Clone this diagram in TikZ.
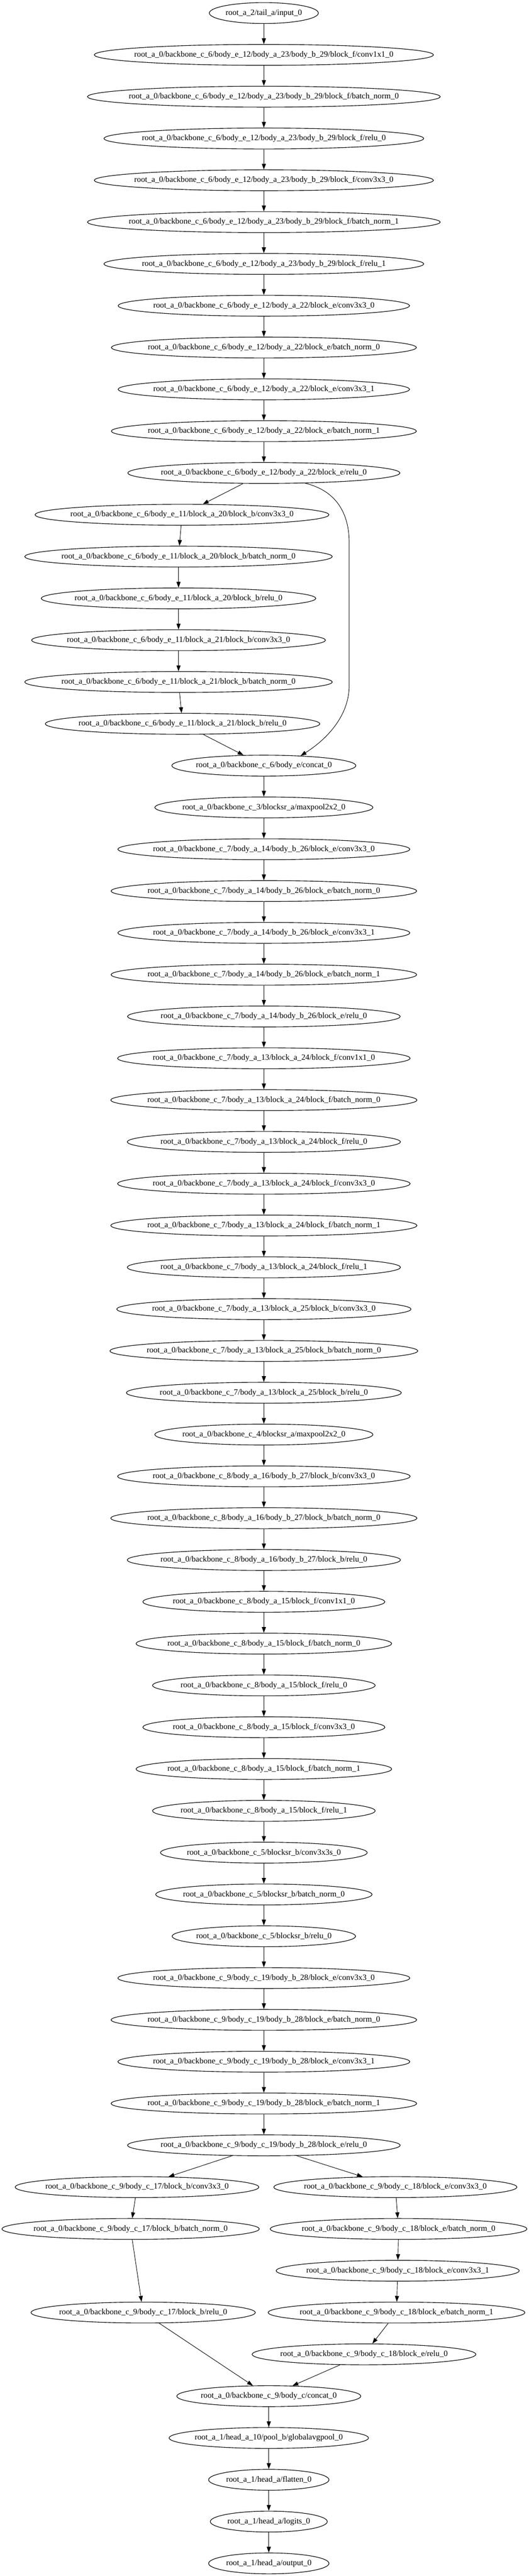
\documentclass[tikz,border=0pt]{standalone}
\usepackage{fontspec}
\setmainfont{Liberation Serif}
\usetikzlibrary{shapes.geometric,arrows.meta}
\newcommand\gvlab[1]{\sbox0{#1}\makebox[0.89\wd0]{#1}}
\newcommand\gvnode[4]{\node[gv] (#1) at (#2,{-22.5-72*(#3)}) {\gvlab{#4}};}
\begin{document}
\begin{tikzpicture}[x=1pt,y=1pt,
  gv/.style={ellipse,draw=black,line width=1pt,inner xsep=7.92pt,inner ysep=3.96pt,
    minimum height=36pt,minimum width=54pt,font=\fontsize{14pt}{16.8pt}\selectfont},
  edge/.style={draw=black,line width=0.8pt,-{Triangle[length=10pt,width=7pt]}}]
\useasboundingbox[fill=white] (0,0) rectangle (910.5,-4436.25);
% main column, upper part
\gvnode{n0}{454.5}{0}{root\_a\_2/tail\_a/input\_0}
\gvnode{n1}{454.5}{1}{root\_a\_0/backbone\_c\_6/body\_e\_12/body\_a\_23/body\_b\_29/block\_f/conv1x1\_0}
\gvnode{n2}{454.5}{2}{root\_a\_0/backbone\_c\_6/body\_e\_12/body\_a\_23/body\_b\_29/block\_f/batch\_norm\_0}
\gvnode{n3}{454.5}{3}{root\_a\_0/backbone\_c\_6/body\_e\_12/body\_a\_23/body\_b\_29/block\_f/relu\_0}
\gvnode{n4}{454.5}{4}{root\_a\_0/backbone\_c\_6/body\_e\_12/body\_a\_23/body\_b\_29/block\_f/conv3x3\_0}
\gvnode{n5}{454.5}{5}{root\_a\_0/backbone\_c\_6/body\_e\_12/body\_a\_23/body\_b\_29/block\_f/batch\_norm\_1}
\gvnode{n6}{454.5}{6}{root\_a\_0/backbone\_c\_6/body\_e\_12/body\_a\_23/body\_b\_29/block\_f/relu\_1}
\gvnode{n7}{454.5}{7}{root\_a\_0/backbone\_c\_6/body\_e\_12/body\_a\_22/block\_e/conv3x3\_0}
\gvnode{n8}{454.5}{8}{root\_a\_0/backbone\_c\_6/body\_e\_12/body\_a\_22/block\_e/batch\_norm\_0}
\gvnode{n9}{454.5}{9}{root\_a\_0/backbone\_c\_6/body\_e\_12/body\_a\_22/block\_e/conv3x3\_1}
\gvnode{n10}{454.5}{10}{root\_a\_0/backbone\_c\_6/body\_e\_12/body\_a\_22/block\_e/batch\_norm\_1}
\gvnode{n11}{454.5}{11}{root\_a\_0/backbone\_c\_6/body\_e\_12/body\_a\_22/block\_e/relu\_0}
% left branch
\gvnode{l12}{313.5}{12}{root\_a\_0/backbone\_c\_6/body\_e\_11/block\_a\_20/block\_b/conv3x3\_0}
\gvnode{l13}{307.5}{13}{root\_a\_0/backbone\_c\_6/body\_e\_11/block\_a\_20/block\_b/batch\_norm\_0}
\gvnode{l14}{307.5}{14}{root\_a\_0/backbone\_c\_6/body\_e\_11/block\_a\_20/block\_b/relu\_0}
\gvnode{l15}{307.5}{15}{root\_a\_0/backbone\_c\_6/body\_e\_11/block\_a\_21/block\_b/conv3x3\_0}
\gvnode{l16}{307.5}{16}{root\_a\_0/backbone\_c\_6/body\_e\_11/block\_a\_21/block\_b/batch\_norm\_0}
\gvnode{l17}{314.5}{17}{root\_a\_0/backbone\_c\_6/body\_e\_11/block\_a\_21/block\_b/relu\_0}
% main column, middle
\gvnode{n18}{454.5}{18}{root\_a\_0/backbone\_c\_6/body\_e/concat\_0}
\gvnode{n19}{454.5}{19}{root\_a\_0/backbone\_c\_3/blocksr\_a/maxpool2x2\_0}
\gvnode{n20}{454.5}{20}{root\_a\_0/backbone\_c\_7/body\_a\_14/body\_b\_26/block\_e/conv3x3\_0}
\gvnode{n21}{454.5}{21}{root\_a\_0/backbone\_c\_7/body\_a\_14/body\_b\_26/block\_e/batch\_norm\_0}
\gvnode{n22}{454.5}{22}{root\_a\_0/backbone\_c\_7/body\_a\_14/body\_b\_26/block\_e/conv3x3\_1}
\gvnode{n23}{454.5}{23}{root\_a\_0/backbone\_c\_7/body\_a\_14/body\_b\_26/block\_e/batch\_norm\_1}
\gvnode{n24}{454.5}{24}{root\_a\_0/backbone\_c\_7/body\_a\_14/body\_b\_26/block\_e/relu\_0}
\gvnode{n25}{454.5}{25}{root\_a\_0/backbone\_c\_7/body\_a\_13/block\_a\_24/block\_f/conv1x1\_0}
\gvnode{n26}{454.5}{26}{root\_a\_0/backbone\_c\_7/body\_a\_13/block\_a\_24/block\_f/batch\_norm\_0}
\gvnode{n27}{454.5}{27}{root\_a\_0/backbone\_c\_7/body\_a\_13/block\_a\_24/block\_f/relu\_0}
\gvnode{n28}{454.5}{28}{root\_a\_0/backbone\_c\_7/body\_a\_13/block\_a\_24/block\_f/conv3x3\_0}
\gvnode{n29}{454.5}{29}{root\_a\_0/backbone\_c\_7/body\_a\_13/block\_a\_24/block\_f/batch\_norm\_1}
\gvnode{n30}{454.5}{30}{root\_a\_0/backbone\_c\_7/body\_a\_13/block\_a\_24/block\_f/relu\_1}
\gvnode{n31}{454.5}{31}{root\_a\_0/backbone\_c\_7/body\_a\_13/block\_a\_25/block\_b/conv3x3\_0}
\gvnode{n32}{454.5}{32}{root\_a\_0/backbone\_c\_7/body\_a\_13/block\_a\_25/block\_b/batch\_norm\_0}
\gvnode{n33}{454.5}{33}{root\_a\_0/backbone\_c\_7/body\_a\_13/block\_a\_25/block\_b/relu\_0}
\gvnode{n34}{454.5}{34}{root\_a\_0/backbone\_c\_4/blocksr\_a/maxpool2x2\_0}
\gvnode{n35}{454.5}{35}{root\_a\_0/backbone\_c\_8/body\_a\_16/body\_b\_27/block\_b/conv3x3\_0}
\gvnode{n36}{454.5}{36}{root\_a\_0/backbone\_c\_8/body\_a\_16/body\_b\_27/block\_b/batch\_norm\_0}
\gvnode{n37}{454.5}{37}{root\_a\_0/backbone\_c\_8/body\_a\_16/body\_b\_27/block\_b/relu\_0}
\gvnode{n38}{454.5}{38}{root\_a\_0/backbone\_c\_8/body\_a\_15/block\_f/conv1x1\_0}
\gvnode{n39}{454.5}{39}{root\_a\_0/backbone\_c\_8/body\_a\_15/block\_f/batch\_norm\_0}
\gvnode{n40}{454.5}{40}{root\_a\_0/backbone\_c\_8/body\_a\_15/block\_f/relu\_0}
\gvnode{n41}{454.5}{41}{root\_a\_0/backbone\_c\_8/body\_a\_15/block\_f/conv3x3\_0}
\gvnode{n42}{454.5}{42}{root\_a\_0/backbone\_c\_8/body\_a\_15/block\_f/batch\_norm\_1}
\gvnode{n43}{454.5}{43}{root\_a\_0/backbone\_c\_8/body\_a\_15/block\_f/relu\_1}
\gvnode{n44}{454.5}{44}{root\_a\_0/backbone\_c\_5/blocksr\_b/conv3x3s\_0}
\gvnode{n45}{454.5}{45}{root\_a\_0/backbone\_c\_5/blocksr\_b/batch\_norm\_0}
\gvnode{n46}{454.5}{46}{root\_a\_0/backbone\_c\_5/blocksr\_b/relu\_0}
\gvnode{n47}{454.5}{47}{root\_a\_0/backbone\_c\_9/body\_c\_19/body\_b\_28/block\_e/conv3x3\_0}
\gvnode{n48}{454.5}{48}{root\_a\_0/backbone\_c\_9/body\_c\_19/body\_b\_28/block\_e/batch\_norm\_0}
\gvnode{n49}{454.5}{49}{root\_a\_0/backbone\_c\_9/body\_c\_19/body\_b\_28/block\_e/conv3x3\_1}
\gvnode{n50}{454.5}{50}{root\_a\_0/backbone\_c\_9/body\_c\_19/body\_b\_28/block\_e/batch\_norm\_1}
\gvnode{n51}{454.5}{51}{root\_a\_0/backbone\_c\_9/body\_c\_19/body\_b\_28/block\_e/relu\_0}
% lower two branches
\gvnode{bl52}{236}{52}{root\_a\_0/backbone\_c\_9/body\_c\_17/block\_b/conv3x3\_0}
\gvnode{br52}{681}{52}{root\_a\_0/backbone\_c\_9/body\_c\_18/block\_e/conv3x3\_0}
\gvnode{bl53}{225}{53}{root\_a\_0/backbone\_c\_9/body\_c\_17/block\_b/batch\_norm\_0}
\gvnode{br53}{686.5}{53}{root\_a\_0/backbone\_c\_9/body\_c\_18/block\_e/batch\_norm\_0}
\gvnode{br54}{685}{54}{root\_a\_0/backbone\_c\_9/body\_c\_18/block\_e/conv3x3\_1}
\gvnode{bl55}{246.6}{55}{root\_a\_0/backbone\_c\_9/body\_c\_17/block\_b/relu\_0}
\gvnode{br55}{683}{55}{root\_a\_0/backbone\_c\_9/body\_c\_18/block\_e/batch\_norm\_1}
\gvnode{br56}{627}{56}{root\_a\_0/backbone\_c\_9/body\_c\_18/block\_e/relu\_0}
% tail
\gvnode{n57}{463}{57}{root\_a\_0/backbone\_c\_9/body\_c/concat\_0}
\gvnode{n58}{463}{58}{root\_a\_1/head\_a\_10/pool\_b/globalavgpool\_0}
\gvnode{n59}{463}{59}{root\_a\_1/head\_a/flatten\_0}
\gvnode{n60}{463}{60}{root\_a\_1/head\_a/logits\_0}
\gvnode{n61}{463}{61}{root\_a\_1/head\_a/output\_0}
% edges
\foreach \a/\b in {n0/n1,n1/n2,n2/n3,n3/n4,n4/n5,n5/n6,n6/n7,n7/n8,n8/n9,n9/n10,n10/n11,
  n11/l12,l12/l13,l13/l14,l14/l15,l15/l16,l16/l17,l17/n18,
  n18/n19,n19/n20,n20/n21,n21/n22,n22/n23,n23/n24,n24/n25,n25/n26,n26/n27,n27/n28,n28/n29,
  n29/n30,n30/n31,n31/n32,n32/n33,n33/n34,n34/n35,n35/n36,n36/n37,n37/n38,n38/n39,n39/n40,
  n40/n41,n41/n42,n42/n43,n43/n44,n44/n45,n45/n46,n46/n47,n47/n48,n48/n49,n49/n50,n50/n51,
  n51/bl52,n51/br52,bl52/bl53,bl53/bl55,bl55/n57,
  br52/br53,br53/br54,br54/br55,br55/br56,br56/n57,
  n57/n58,n58/n59,n59/n60,n60/n61}
  {\draw[edge] (\a) -- (\b);}
\draw[edge] (n11.-14.6) .. controls (580,-845) and (601.5,-885) .. (601.5,-935)
  -- (601.5,-1180) .. controls (601.5,-1235) and (560,-1275) .. (n18.15.5);
\end{tikzpicture}
\end{document}
